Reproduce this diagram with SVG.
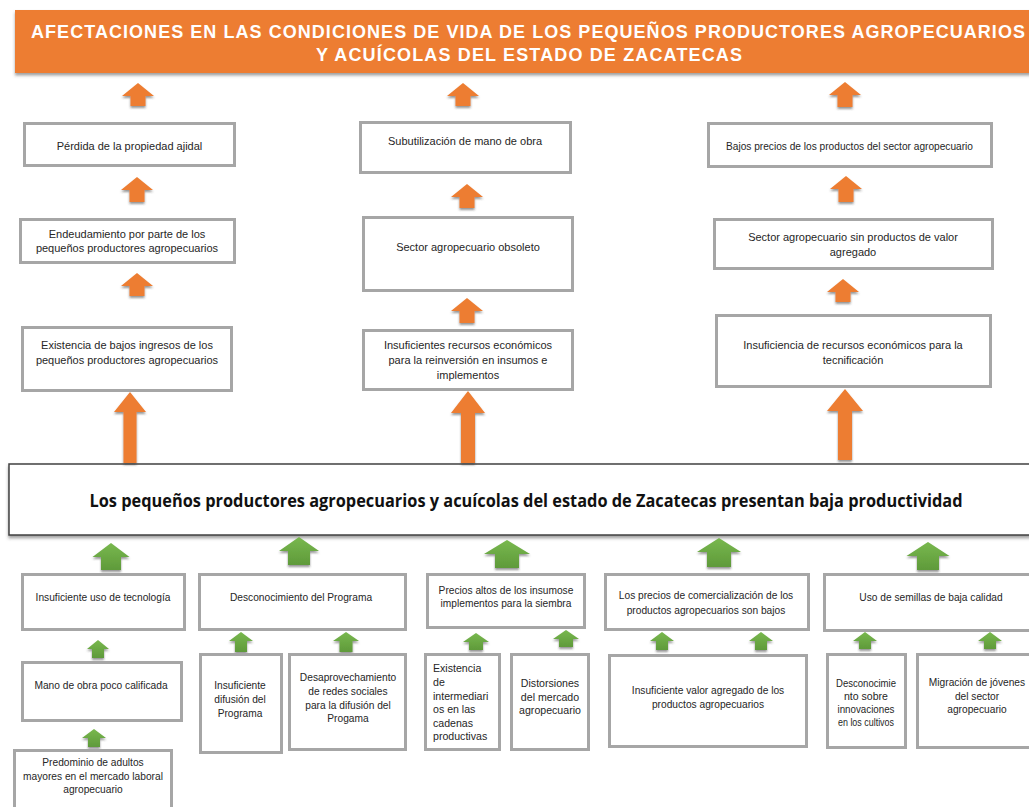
<svg xmlns="http://www.w3.org/2000/svg" width="1029" height="807" viewBox="0 0 1029 807">
<defs>
<filter id="sh" x="-30%" y="-30%" width="160%" height="170%">
<feDropShadow dx="0" dy="2" stdDeviation="1.2" flood-color="#404040" flood-opacity="0.55"/>
</filter>
<filter id="shb" x="-5%" y="-20%" width="110%" height="150%">
<feDropShadow dx="0" dy="2.5" stdDeviation="1.5" flood-color="#404040" flood-opacity="0.5"/>
</filter>
<linearGradient id="gg" x1="0" y1="0" x2="0" y2="1">
<stop offset="0" stop-color="#78B84E"/>
<stop offset="1" stop-color="#5F9A3A"/>
</linearGradient>
</defs>
<style>
.box{fill:#fff;stroke:#A6A6A6;stroke-width:3}
.t{font-family:"Liberation Sans",Arial,sans-serif;font-size:11px;fill:#262626;text-anchor:middle}
.s{font-size:10.2px}
.m{font-size:10.6px}
.tl{text-anchor:start}
.ao{fill:#ED7D31;filter:url(#sh)}
.ag{fill:url(#gg);filter:url(#sh)}
.hd{font-family:"Liberation Sans",Arial,sans-serif;font-size:18px;font-weight:bold;fill:#fff}
.ct{font-family:"Open Sans","Liberation Sans",Arial,sans-serif;font-size:17px;font-weight:bold;fill:#111;text-anchor:middle}
</style>
<rect width="1029" height="807" fill="#fff"/>

<g id="header">
<rect x="15" y="10" width="1030" height="63" fill="#ED7D31" filter="url(#shb)"/>
<text class="hd" x="31" y="38" textLength="994" lengthAdjust="spacing">AFECTACIONES EN LAS CONDICIONES DE VIDA DE LOS PEQUEÑOS PRODUCTORES AGROPECUARIOS</text>
<text class="hd" x="316" y="61" textLength="426" lengthAdjust="spacing">Y ACUÍCOLAS DEL ESTADO DE ZACATECAS</text>
</g>

<g id="problema-central">
<rect x="9" y="464" width="1030" height="71" fill="#fff" stroke="#404040" stroke-width="1.5" filter="url(#shb)"/>
<text class="ct" x="526" y="507" textLength="873" lengthAdjust="spacingAndGlyphs">Los pequeños productores agropecuarios y acuícolas del estado de Zacatecas presentan baja productividad</text>
</g>

<g id="connectors">
<path class="ao" d="M138 83 L154 96 H145.5 V106 H130.5 V96 H122 Z"/>
<path class="ao" d="M137 177 L153 190 H144.5 V202 H129.5 V190 H121 Z"/>
<path class="ao" d="M137 273 L153 286 H144.5 V296 H129.5 V286 H121 Z"/>
<path class="ao" d="M130 392 L146 412 H136.5 V463 H123.5 V412 H114 Z"/>
<path class="ao" d="M463 83 L479 96 H470.5 V106 H455.5 V96 H447 Z"/>
<path class="ao" d="M467 184 L483 197 H474.5 V208 H459.5 V197 H451 Z"/>
<path class="ao" d="M467 298 L483 311 H474.5 V323 H459.5 V311 H451 Z"/>
<path class="ao" d="M468 391 L485 413 H475 V463 H461 V413 H451 Z"/>
<path class="ao" d="M845 82 L861 95 H852.5 V107 H837.5 V95 H829 Z"/>
<path class="ao" d="M846 176 L862 189 H853.5 V202 H838.5 V189 H830 Z"/>
<path class="ao" d="M843 279 L859 292 H850.5 V302 H835.5 V292 H827 Z"/>
<path class="ao" d="M845 389 L863 411 H852 V460 H838 V411 H827 Z"/>

<path class="ag" d="M111 543 L129.5 557 H121 V570 H101 V557 H92.5 Z"/>
<path class="ag" d="M299 537 L319 551 H310 V565 H288 V551 H279 Z"/>
<path class="ag" d="M507 540 L530 554 H519 V568 H495 V554 H484 Z"/>
<path class="ag" d="M719 538 L741 552 H731 V567 H707 V552 H697 Z"/>
<path class="ag" d="M928 542 L949.5 556 H939 V570 H917 V556 H906.5 Z"/>

<path class="ag" d="M98 640 L109 649 H104 V658 H92 V649 H87 Z"/>
<path class="ag" d="M94 729 L106 738 H100 V747 H88 V738 H82 Z"/>
<path class="ag" d="M241 632 L253 641 H247 V652 H235 V641 H229 Z"/>
<path class="ag" d="M346 632 L359 641 H352.5 V652 H339.5 V641 H333 Z"/>
<path class="ag" d="M476 633 L489 642 H483 V650 H469 V642 H463 Z"/>
<path class="ag" d="M566 630 L579 639 H573 V647 H559 V639 H553 Z"/>
<path class="ag" d="M662 632 L674 641 H668 V650 H656 V641 H650 Z"/>
<path class="ag" d="M761 632 L773 641 H767 V650 H755 V641 H749 Z"/>
<path class="ag" d="M865 632 L877 641 H871 V649 H859 V641 H853 Z"/>
<path class="ag" d="M990 632 L1002 641 H996 V649 H984 V641 H978 Z"/>
</g>

<g id="perdida-propiedad">
<rect class="box" x="24.5" y="123.5" width="210" height="42"/>
<text class="t" x="129.5" y="150">Pérdida de la propiedad ajidal</text>
</g>
<g id="endeudamiento">
<rect class="box" x="20.5" y="219.5" width="214" height="43"/>
<text class="t" x="127" y="238">Endeudamiento por parte de los</text>
<text class="t" x="127" y="252">pequeños productores agropecuarios</text>
</g>
<g id="bajos-ingresos">
<rect class="box" x="22.5" y="327.5" width="209" height="63"/>
<text class="t" x="127" y="349">Existencia de bajos ingresos de los</text>
<text class="t" x="127" y="364">pequeños productores agropecuarios</text>
</g>

<g id="subutilizacion">
<rect class="box" x="360.5" y="122.5" width="210" height="50"/>
<text class="t" x="465" y="145">Subutilización de mano de obra</text>
</g>
<g id="sector-obsoleto">
<rect class="box" x="363.5" y="217.5" width="209" height="73"/>
<text class="t" x="468" y="251">Sector agropecuario obsoleto</text>
</g>
<g id="insuficientes-recursos">
<rect class="box" x="363.5" y="330.5" width="209" height="59"/>
<text class="t" x="468" y="349">Insuficientes recursos económicos</text>
<text class="t" x="468" y="364">para la reinversión en insumos e</text>
<text class="t" x="468" y="379">implementos</text>
</g>

<g id="bajos-precios">
<rect class="box" x="708.5" y="123.5" width="283" height="43"/>
<text class="t" x="849.5" y="150" textLength="247" lengthAdjust="spacingAndGlyphs">Bajos precios de los productos del sector agropecuario</text>
</g>
<g id="sin-valor-agregado">
<rect class="box" x="714.5" y="219.5" width="278" height="49"/>
<text class="t" x="853" y="241">Sector agropecuario sin productos de valor</text>
<text class="t" x="853" y="256">agregado</text>
</g>
<g id="insuficiencia-tecnificacion">
<rect class="box" x="716.5" y="315.5" width="274" height="71"/>
<text class="t" x="853" y="349">Insuficiencia de recursos económicos para la</text>
<text class="t" x="853" y="364">tecnificación</text>
</g>

<g id="uso-tecnologia">
<rect class="box" x="22.5" y="574.5" width="162" height="55"/>
<text class="t s" x="103" y="601">Insuficiente uso de tecnología</text>
</g>
<g id="mano-obra">
<rect class="box" x="22.5" y="662.5" width="159" height="58"/>
<text class="t s" x="101" y="689">Mano de obra poco calificada</text>
</g>
<g id="predominio-adultos">
<rect class="box" x="14.5" y="750.5" width="157" height="70"/>
<text class="t s" x="93" y="766">Predominio de adultos</text>
<text class="t s" x="93" y="780">mayores en el mercado laboral</text>
<text class="t s" x="93" y="793">agropecuario</text>
</g>

<g id="desconocimiento-programa">
<rect class="box" x="199.5" y="574.5" width="206" height="55"/>
<text class="t s" x="301" y="601">Desconocimiento del Programa</text>
</g>
<g id="insuficiente-difusion">
<rect class="box" x="200.5" y="654.5" width="81" height="98"/>
<text class="t s" x="240" y="689">Insuficiente</text>
<text class="t s" x="240" y="703">difusión del</text>
<text class="t s" x="240" y="717">Programa</text>
</g>
<g id="desaprovechamiento">
<rect class="box" x="289.5" y="654.5" width="116" height="95"/>
<text class="t s" x="348" y="681">Desaprovechamiento</text>
<text class="t s" x="348" y="695">de redes sociales</text>
<text class="t s" x="348" y="709">para la difusión del</text>
<text class="t s" x="348" y="722">Progama</text>
</g>

<g id="precios-altos">
<rect class="box" x="427.5" y="574.5" width="157" height="53"/>
<text class="t s" x="506" y="594">Precios altos de los insumose</text>
<text class="t s" x="506" y="607">implementos para la siembra</text>
</g>
<g id="intermediarios">
<rect class="box" x="425.5" y="654.5" width="74" height="95"/>
<text class="t m tl" x="433" y="672">Existencia</text>
<text class="t m tl" x="433" y="686">de</text>
<text class="t m tl" x="433" y="700">intermediari</text>
<text class="t m tl" x="433" y="713">os en las</text>
<text class="t m tl" x="433" y="727">cadenas</text>
<text class="t m tl" x="433" y="740">productivas</text>
</g>
<g id="distorsiones">
<rect class="box" x="511.5" y="654.5" width="77" height="95"/>
<text class="t m" x="550" y="687">Distorsiones</text>
<text class="t m" x="550" y="701">del mercado</text>
<text class="t m" x="550" y="714">agropecuario</text>
</g>

<g id="precios-comercializacion">
<rect class="box" x="605.5" y="574.5" width="203" height="55"/>
<text class="t s" x="706" y="599">Los precios de comercialización de los</text>
<text class="t s" x="706" y="614">productos agropecuarios son bajos</text>
</g>
<g id="valor-agregado">
<rect class="box" x="609.5" y="655.5" width="197" height="91"/>
<text class="t s" x="708" y="694">Insuficiente valor agregado de los</text>
<text class="t s" x="708" y="708">productos agropecuarios</text>
</g>

<g id="semillas">
<rect class="box" x="824.5" y="574.5" width="215" height="56"/>
<text class="t s" x="931" y="601">Uso de semillas de baja calidad</text>
</g>
<g id="desconocimiento-innovaciones">
<rect class="box" x="827.5" y="654.5" width="78" height="93"/>
<text class="t" x="866" y="687" textLength="60" lengthAdjust="spacingAndGlyphs">Desconocimie</text>
<text class="t" x="866" y="700" textLength="44" lengthAdjust="spacingAndGlyphs">nto sobre</text>
<text class="t" x="866" y="713" textLength="57" lengthAdjust="spacingAndGlyphs">innovaciones</text>
<text class="t" x="866" y="726" textLength="56" lengthAdjust="spacingAndGlyphs">en los cultivos</text>
</g>
<g id="migracion">
<rect class="box" x="917.5" y="654.5" width="120" height="93"/>
<text class="t s" x="977" y="686">Migración de jóvenes</text>
<text class="t s" x="977" y="700">del sector</text>
<text class="t s" x="977" y="713">agropecuario</text>
</g>
</svg>
